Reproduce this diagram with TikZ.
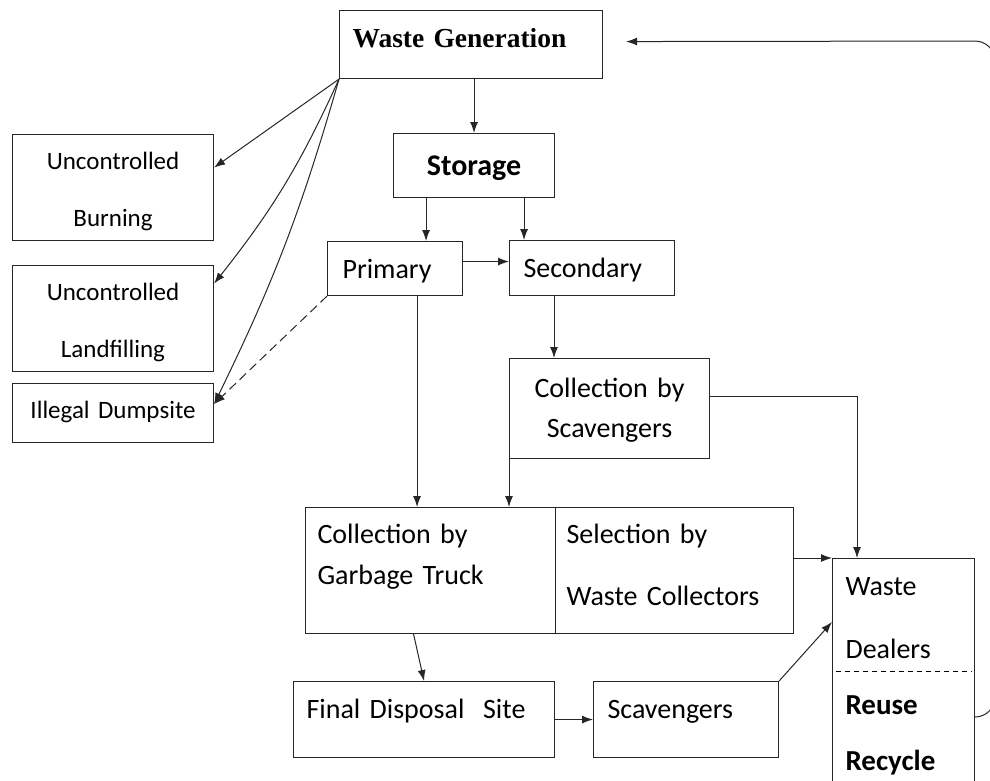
\documentclass[tikz,border=0pt]{standalone}
\usepackage{fontspec}
\setmainfont{Carlito}
\newfontfamily\genfont{Liberation Serif}
\usetikzlibrary{arrows.meta}

\newcommand{\midfont}[1]{\fontsize{28}{#1}\selectfont}
\newcommand{\sidefont}{\fontsize{25}{57}\selectfont}
\newcommand{\heavy}[1]{{\bfseries\fontsize{29}{56}\selectfont #1}}

\tikzset{
  box/.style={draw=black!85, anchor=north west, inner ysep=0pt, line width=1.1pt},
  arr/.style={-{Latex[length=11pt,width=8pt]}, line width=1pt, draw=black!85},
}

\begin{document}
\begin{tikzpicture}[x=1pt, y=-1pt]
\useasboundingbox (0,0) rectangle (990,780);

\node (gen) [box, inner xsep=13pt, text width=237pt, align=left, text height=37pt, text depth=31pt,
  font=\genfont\bfseries\fontsize{27.5}{33}\selectfont] at (339,10) {Waste Generation};

\node (store) [box, inner xsep=0pt, text width=161pt, align=center, text height=42pt, text depth=22pt,
  font=\bfseries\fontsize{30}{36}\selectfont] at (393,133) {Storage};

\node (burn) [box, inner xsep=0pt, text width=201pt, align=center, text height=35pt, text depth=71pt,
  font=\sidefont] at (12,134) {Uncontrolled\\Burning};

\node (landf) [box, inner xsep=0pt, text width=201pt, align=center, text height=35pt, text depth=71pt,
  font=\sidefont] at (12,265) {Uncontrolled\\Landfilling};

\node (dump) [box, inner xsep=0pt, text width=201pt, align=center, text height=35pt, text depth=24pt,
  font=\sidefont] at (12,383) {Illegal Dumpsite};

\node (prim) [box, inner xsep=15pt, text width=105pt, align=left, text height=37pt, text depth=17pt,
  font=\midfont{34}] at (327,241) {Primary};

\node (sec) [box, inner xsep=14pt, text width=137pt, align=left, text height=37pt, text depth=18pt,
  font=\midfont{34}] at (509,240) {Secondary};

\node (cbs) [box, inner xsep=0pt, text width=200pt, align=center, text height=39pt, text depth=61pt,
  font=\midfont{40}] at (509,358) {Collection by\\Scavengers};

\node (truck) [box, inner xsep=12pt, text width=226pt, align=left, text height=36pt, text depth=90pt,
  font=\midfont{41}] at (305,507) {Collection by\\Garbage Truck};

\node (sel) [box, inner xsep=11pt, text width=216pt, align=left, text height=36pt, text depth=90pt,
  font=\midfont{62}] at (555,507) {Selection by\\Waste Collectors};

\node (fds) [box, inner xsep=13pt, text width=235pt, align=left, text height=37pt, text depth=39pt,
  font=\midfont{34}] at (293,681) {Final Disposal\ \ Site};

\node (scav) [box, inner xsep=14pt, text width=157pt, align=left, text height=37pt, text depth=39pt,
  font=\midfont{34}] at (593,681) {Scavengers};

\node (deal) [box, inner xsep=13pt, text width=116pt, align=left, text height=37pt, text depth=205pt,
  font=\midfont{56}] at (832,558) {Waste\\[7pt]Dealers\\\heavy{Reuse}\\\heavy{Recycle}};
\draw[dash pattern=on 5pt off 4pt, line width=0.9pt]
  ([xshift=4pt, yshift=-113pt]deal.north west) -- ([xshift=-4pt, yshift=-113pt]deal.north east);

% from waste generation
\draw[arr] (gen.south -| store.north) -- (store.north);
\draw[arr] (gen.south west) -- ([yshift=20pt]burn.east);
\draw[arr] (gen.south west) to[bend left=7] ([yshift=35pt]landf.east);
\draw[arr] (gen.south west) to[bend left=5] ([yshift=9pt]dump.east);
\draw[arr, dash pattern=on 9pt off 5pt] (prim.south west) -- ([yshift=9pt]dump.east);

% storage
\draw[arr] ([xshift=-48pt]store.south) -- ([xshift=-48pt]store.south |- prim.north);
\draw[arr] ([xshift=50pt]store.south) -- ([xshift=50pt]store.south |- sec.north);
\draw[arr] ([yshift=7pt]prim.east) -- ([yshift=7pt]prim.east -| sec.west);
\draw[arr] ([xshift=45pt]sec.south west) -- ([xshift=45pt]sec.south west |- cbs.north);

% collection
\draw[arr] ([xshift=22pt]prim.south) -- ([xshift=22pt]prim.south |- truck.north);
\draw[arr] (cbs.south west) -- (cbs.south west |- truck.north);
\draw[arr] ([yshift=12pt]cbs.east) -| ([xshift=25pt]deal.north west);
\draw[arr] (sel.east |- deal.north) -- (deal.north west);
\draw[arr] ([xshift=-17pt]truck.south) -- (fds.north);
\draw[arr] (fds.east) -- (fds.east -| scav.west);
\draw[arr] (scav.north east) -- ([yshift=-64pt]deal.north west);

% back to waste generation
\draw[arr, rounded corners=20pt] ([yshift=-159pt]deal.north east) -- (995,717) -- (995,41)
  -- ([xshift=23pt, yshift=3pt]gen.east);

\end{tikzpicture}
\end{document}
